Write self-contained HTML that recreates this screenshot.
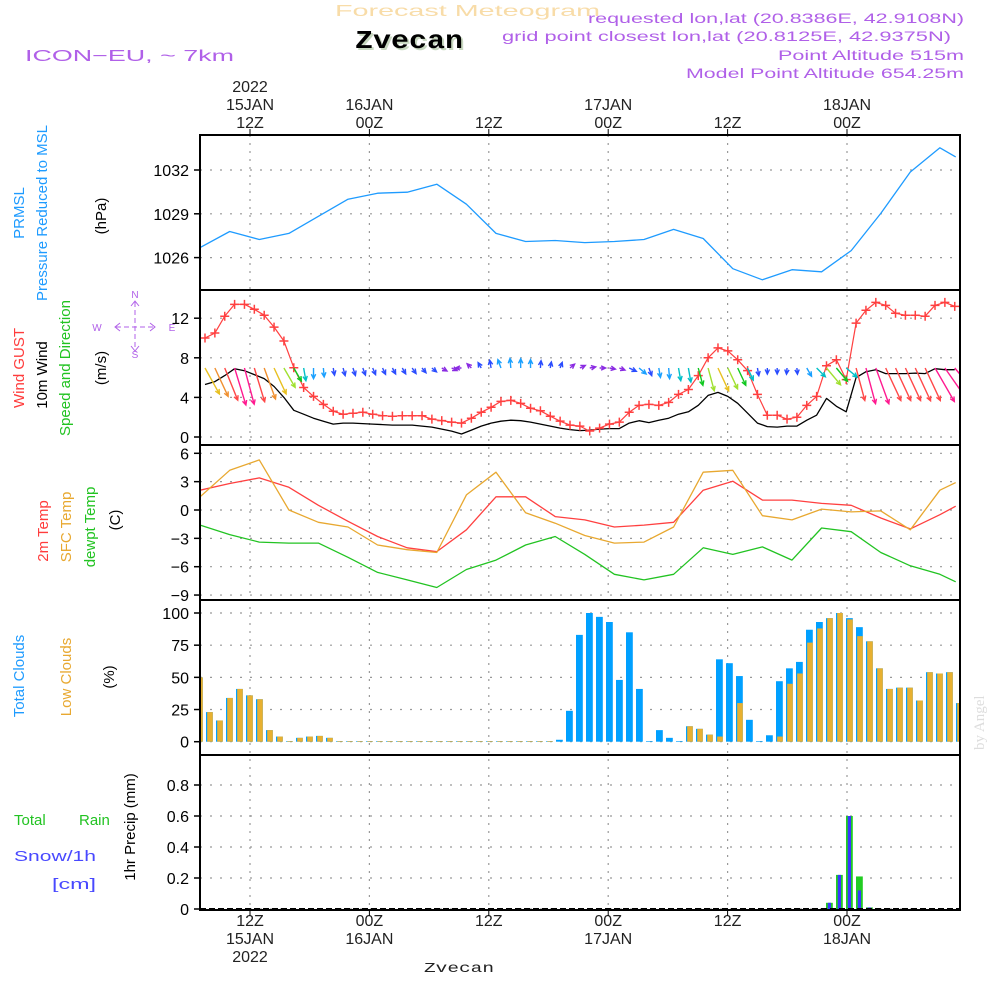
<!DOCTYPE html>
<html><head><meta charset="utf-8"><style>
html,body{margin:0;padding:0;background:#fff;}
svg{display:block;font-family:"Liberation Sans",sans-serif;}
</style></head><body>
<svg id="chart" width="1000" height="1000" viewBox="0 0 1000 1000" xmlns="http://www.w3.org/2000/svg">
<rect width="1000" height="1000" fill="#fff"/>
<g id="titles" font-size="15">
<text x="335" y="16" fill="#f8dca8" font-size="16" textLength="265" lengthAdjust="spacingAndGlyphs">Forecast Meteogram</text>
<text x="357" y="50" fill="#c8d8c0" font-family="Liberation Mono,monospace" font-weight="bold" font-size="26" textLength="108" lengthAdjust="spacingAndGlyphs">Zvecan</text>
<text x="355" y="48" fill="#000" font-family="Liberation Mono,monospace" font-weight="bold" font-size="26" textLength="108" lengthAdjust="spacingAndGlyphs">Zvecan</text>
<text x="25" y="61" fill="#b060e8" font-size="16" textLength="209" lengthAdjust="spacingAndGlyphs">ICON−EU, ~ 7km</text>
<text x="588" y="23" fill="#b060e8" font-size="14" textLength="376" lengthAdjust="spacingAndGlyphs">requested lon,lat (20.8386E, 42.9108N)</text>
<text x="502" y="41" fill="#b060e8" font-size="14" textLength="449" lengthAdjust="spacingAndGlyphs">grid point closest lon,lat (20.8125E, 42.9375N)</text>
<text x="778" y="60" fill="#b060e8" font-size="14" textLength="186" lengthAdjust="spacingAndGlyphs">Point Altitude 515m</text>
<text x="686" y="78" fill="#b060e8" font-size="14" textLength="278" lengthAdjust="spacingAndGlyphs">Model Point Altitude 654.25m</text>
<text x="424" y="972" fill="#222" font-family="Liberation Mono,monospace" font-size="14" textLength="70" lengthAdjust="spacingAndGlyphs">Zvecan</text>
<text transform="translate(984,750) rotate(-90)" fill="#ddd" font-family="Liberation Serif,serif" font-size="15">by Angel</text>
</g>
<g id="grid"></g>
<g id="marks"></g>
<g id="frames"></g>
<g id="axes" font-size="16" fill="#000"></g>
<g id="ylabels" font-size="15">
<text transform="translate(24,213) rotate(-90)" text-anchor="middle" fill="#1e9bff">PRMSL</text>
<text transform="translate(47,213) rotate(-90)" text-anchor="middle" fill="#1e9bff">Pressure Reduced to MSL</text>
<text transform="translate(106,216) rotate(-90)" text-anchor="middle" fill="#000">(hPa)</text>
<text transform="translate(24,368) rotate(-90)" text-anchor="middle" fill="#ff3c3c">Wind GUST</text>
<text transform="translate(47,375) rotate(-90)" text-anchor="middle" fill="#000">10m Wind</text>
<text transform="translate(70,368) rotate(-90)" text-anchor="middle" fill="#22c322">Speed and Direction</text>
<text transform="translate(106,368) rotate(-90)" text-anchor="middle" fill="#000">(m/s)</text>
<g fill="#b060e8" stroke="#b060e8" font-size="10" text-anchor="middle">
<text x="135" y="298" stroke="none">N</text><text x="135" y="358" stroke="none">S</text>
<text x="97" y="331" stroke="none">W</text><text x="172" y="331" stroke="none">E</text>
<line x1="116" y1="327" x2="154" y2="327" stroke-dasharray="5,3"/><line x1="135" y1="302" x2="135" y2="350" stroke-dasharray="5,3"/>
<path d="M120,323 L115,327 L120,331 M150,323 L155,327 L150,331 M131,306 L135,301 L139,306 M131,346 L135,351 L139,346" fill="none"/>
</g>
<text transform="translate(48,531) rotate(-90)" text-anchor="middle" fill="#ff3c3c">2m Temp</text>
<text transform="translate(71,527) rotate(-90)" text-anchor="middle" fill="#e8a830">SFC Temp</text>
<text transform="translate(95,527) rotate(-90)" text-anchor="middle" fill="#22c322">dewpt Temp</text>
<text transform="translate(120,520) rotate(-90)" text-anchor="middle" fill="#000">(C)</text>
<text transform="translate(24,676) rotate(-90)" text-anchor="middle" fill="#1e9bff">Total Clouds</text>
<text transform="translate(71,677) rotate(-90)" text-anchor="middle" fill="#e8a830">Low Clouds</text>
<text transform="translate(114,677) rotate(-90)" text-anchor="middle" fill="#000">(%)</text>
<text transform="translate(135,827) rotate(-90)" text-anchor="middle" fill="#000">1hr Precip (mm)</text>
<text x="14" y="825" fill="#22c322">Total</text>
<text x="79" y="825" fill="#22c322">Rain</text>
<text x="14" y="861" fill="#4848ff" textLength="82" lengthAdjust="spacingAndGlyphs">Snow/1h</text>
<text x="52" y="889" fill="#4848ff" textLength="44" lengthAdjust="spacingAndGlyphs">[cm]</text>
</g>
</svg>
<script>
// ---------------- data ----------------
const lineHours = [7,10,13,16,19,22,25,28,31,34,37,40,43,46,49,52,55,58,61,64,67,70,73,76,79,82,83.6];
const pressure = [1026.69,1027.79,1027.24,1027.66,1028.83,1030.0,1030.41,1030.48,1031.03,1029.66,1027.66,1027.1,1027.17,1027.03,1027.1,1027.24,1027.93,1027.31,1025.24,1024.48,1025.17,1025.03,1026.48,1029.03,1031.86,1033.52,1032.9];
const temp2m = [2.1,2.8,3.4,2.4,0.5,-1.2,-2.8,-4.0,-4.4,-2.1,1.4,1.4,-0.7,-1.05,-1.8,-1.6,-1.3,2.1,3.05,1.05,1.05,0.7,0.5,-0.85,-2.0,-0.5,0.4];
const tempSfc = [1.4,4.2,5.3,0,-1.3,-1.8,-3.7,-4.2,-4.5,1.6,4.0,-0.3,-1.4,-2.7,-3.5,-3.4,-1.8,4.0,4.2,-0.6,-1.05,0.1,-0.2,-0.1,-2.1,2.1,2.9];
const dewpoint = [-1.6,-2.6,-3.4,-3.5,-3.5,-5.0,-6.6,-7.4,-8.2,-6.3,-5.3,-3.7,-2.8,-4.7,-6.8,-7.4,-6.8,-4.0,-4.7,-3.9,-5.3,-1.9,-2.3,-4.5,-5.9,-6.8,-7.6];
const windStart = 7.5;
const windGust = [10.0,10.5,12.2,13.4,13.4,12.9,12.3,11.1,9.7,7.0,5.0,4.1,3.3,2.6,2.3,2.4,2.5,2.3,2.15,2.1,2.15,2.15,2.15,1.8,1.65,1.5,1.4,1.9,2.5,3.0,3.6,3.7,3.4,2.9,2.65,2.1,1.6,1.2,1.1,0.6,
 0.9,1.3,1.5,2.5,3.2,3.3,3.2,3.5,4.3,4.8,6.2,8.0,9.0,8.7,7.8,6.7,4.3,2.2,2.2,1.8,2.0,3.2,4.1,7.2,7.8,5.8,11.5,12.8,13.6,13.3,12.5,12.3,12.3,12.2,13.3,13.6,13.2];
const windSpeed = [5.3,5.6,6.2,6.9,6.7,6.3,5.9,5.1,4.0,2.7,2.3,1.9,1.6,1.3,1.4,1.4,1.35,1.3,1.25,1.2,1.2,1.2,1.1,1.0,0.8,0.6,0.3,0.7,1.1,1.4,1.6,1.7,1.65,1.5,1.3,1.1,0.9,0.75,0.65,0.7,
 0.8,0.85,0.85,1.4,1.65,1.45,1.7,1.9,2.3,2.55,3.2,4.2,4.5,4.1,3.4,2.4,1.4,1.05,1.0,1.1,1.1,1.7,2.2,3.9,3.1,2.55,6.0,6.6,6.8,6.4,6.4,6.4,6.45,6.4,6.9,6.8,6.8];
const windDir = [331,335,338,343,345,343,340,335,330,330,350,0,355,350,345,342,340,337,335,332,330,325,320,310,300,295,90,135,150,170,160,175,180,180,185,190,200,230,245,260,
 270,280,290,295,310,340,350,355,350,350,345,345,335,335,335,335,350,0,0,5,355,330,315,320,320,310,345,345,340,335,335,335,335,335,330,325,320];
const cloudStart = 7;
const cloudTotal = [50,23,16.5,34,41,36,33,9,4,0.5,3,4,4.5,3,0.5,0.5,0.5,0.5,0.5,0.5,0.5,0.5,0.5,0.5,0.5,0.5,0.5,0.5,0.5,0.5,0.5,0.5,0.5,0.5,0.5,0.5,1.5,
 24,83,100,97,93,48,85,41,0.5,9,3,0.5,12,10,5.5,64,61,51,17,0.5,5,47,57,62,87,93,96,100,96,89,78,57,41,42,42,32,54,53,54,30];
const cloudLow = [50,23,16.5,34,41,36,33,9,4,0.5,3,4,4.5,3,0.5,0.5,0.5,0.5,0.5,0.5,0.5,0.5,0.5,0.5,0.5,0.5,0.5,0.5,0.5,0.5,0.5,0.5,0.5,0.5,0.5,0.5,0,
 0,0,0,0,0,0,0,0,0,0,0,0,12,10,5.5,4,0,30,0,0,0,4,45,53,77,88,96,100,95,82,78,57,41,42,42,32,54,53,54,30];
const precipHours = [70,71,72,73,74];
const precipTotal = [0.04,0.22,0.60,0.21,0.01];
const precipSnow = [0.04,0.22,0.60,0.12,0.01];
const pTicks = [1026,1029,1032];
const wTicks = [0,4,8,12];
const tTicks = [-9,-6,-3,0,3,6];
const cTicks = [0,25,50,75,100];
const rTicks = [0,0.2,0.4,0.6,0.8];
const gridHours = [12,24,36,48,60,72];
const topLabels = [["2022","15JAN","12Z"],["","16JAN","00Z"],["","","12Z"],["","17JAN","00Z"],["","","12Z"],["","18JAN","00Z"]];
const bottomLabels = [["12Z","15JAN","2022"],["00Z","16JAN",""],["12Z","",""],["00Z","17JAN",""],["12Z","",""],["00Z","18JAN",""]];

// ---------------- scales ----------------
const NS="http://www.w3.org/2000/svg";
const X0=200, X1=960;
const xl = h => 205 + (h-7.5)*9.865;
const xb = h => 199.4 + (h-7)*10;
const xg = h => 250 + (h-12)*9.95;
const yP = v => 170 + (1032-v)*14.6;
const yW = v => 437 - v*9.9;
const yT = v => 510 - v*9.45;
const yC = v => 741.7 - v*1.287;
const yR = v => 909 - v*155;
const panels=[[135,290],[290,445],[445,600],[600,755],[755,910]];

function el(tag, attrs, parent){ const e=document.createElementNS(NS,tag); for(const k in attrs) e.setAttribute(k,attrs[k]); parent.appendChild(e); return e; }
const grid=document.getElementById('grid'), marks=document.getElementById('marks'), frames=document.getElementById('frames'), axes=document.getElementById('axes');

gridHours.forEach(h=>{
  const g=el('line',{x1:xg(h),x2:xg(h),y1:135,y2:910,stroke:'#999','stroke-width':1.2,'stroke-dasharray':'2,6'},grid);
  
  
});
function hgrid(ticks, ys, fmt, name){
  ticks.forEach(t=>{
    const y=ys(t);
    const g=el('line',{x1:X0,x2:X1,y1:y,y2:y,stroke:'#999','stroke-width':1.2,'stroke-dasharray':'2,8'},grid);
    
    
    const tk=el('line',{x1:194,x2:200,y1:y,y2:y,stroke:'#000','stroke-width':1.5},axes);
    
    
    const tx=el('text',{x:189,y:y+6,'text-anchor':'end'},axes);
    tx.textContent=fmt(t);
    
    
  });
}
hgrid(pTicks,yP,t=>String(t),'pressure');
hgrid(wTicks,yW,t=>String(t),'wind');
hgrid(tTicks,yT,t=>t<0?'−'+(-t):String(t),'temp');
hgrid(cTicks,yC,t=>String(t),'cloud');
hgrid(rTicks,yR,t=>t===0?'0':t.toFixed(1),'precip');

panels.forEach((p,i)=>{
  const r=el('rect',{x:X0,y:p[0],width:X1-X0,height:p[1]-p[0],fill:'none',stroke:'#000','stroke-width':2},frames);
  
  
});
gridHours.forEach((h,i)=>{
  const x=xg(h);
  topLabels[i].forEach((s,j)=>{ if(!s) return;
    const t=el('text',{x:x,y:92+j*18,'text-anchor':'middle','fill':'#222'},axes); t.textContent=s;
    
    
  });
  bottomLabels[i].forEach((s,j)=>{ if(!s) return;
    const t=el('text',{x:x,y:926+j*18,'text-anchor':'middle','fill':'#222'},axes); t.textContent=s;
    
    
  });
  const a=el('line',{x1:x,x2:x,y1:129,y2:135,stroke:'#000'},axes);
  
  
  const b=el('line',{x1:x,x2:x,y1:910,y2:916,stroke:'#000'},axes);
  
  
});

const defs=el('defs',{},marks);
const cp=el('clipPath',{id:'plotclip'},defs); el('rect',{x:X0,y:135,width:X1-X0,height:775},cp);
const M=el('g',{'clip-path':'url(#plotclip)'},marks);

function polyline(hours, vals, xs, ys, color, name, w){
  const pts=vals.map((v,i)=>xs(hours[i]).toFixed(1)+','+ys(v).toFixed(1)).join(' ');
  const p=el('polyline',{points:pts,fill:'none',stroke:color,'stroke-width':w||1.3,'stroke-linejoin':'round'},M);
  
  
}
polyline(lineHours,pressure,xl,yP,'#1e9bff','pressure-line');
polyline(lineHours,temp2m,xl,yT,'#ff4040','temp-2m-line');
polyline(lineHours,tempSfc,xl,yT,'#e8a830','temp-sfc-line');
polyline(lineHours,dewpoint,xl,yT,'#22c322','dewpoint-line');
const windHours=windGust.map((_,i)=>windStart+i);
polyline(windHours,windSpeed,xl,yW,'#000','wind-speed-line');
polyline(windHours,windGust,xl,yW,'#ff4040','wind-gust-line',1.2);
windGust.forEach((v,i)=>{
  const x=xl(windHours[i]), y=yW(v);
  const c=el('path',{d:`M${x-4.5},${y}H${x+4.5}M${x},${y-4.5}V${y+4.5}`,stroke:'#ff4040','stroke-width':1.5},M);
  
  
});
function arrowColor(s){
  if(s<0.9) return '#8a2be2';
  if(s<1.5) return '#2a4cff';
  if(s<2.0) return '#1aa0ff';
  if(s<2.6) return '#00c0c8';
  if(s<3.6) return '#10c820';
  if(s<4.4) return '#a0e030';
  if(s<5.4) return '#e8c020';
  if(s<6.0) return '#f09030';
  if(s<6.6) return '#ff4848';
  return '#ff1a90';
}
windDir.forEach((d,i)=>{
  const s=windSpeed[i];
  const L=Math.max(6, s*5.6);
  const th=(d+180)*Math.PI/180;
  const x=xl(windHours[i]), y=368;
  const dx=Math.sin(th)*L, dy=-Math.cos(th)*L;
  const x2=x+dx, y2=y+dy;
  const a1=th+Math.PI-0.45, a2=th+Math.PI+0.45, hl=5;
  const d1=`M${x},${y}L${x2},${y2}M${x2+Math.sin(a1)*hl},${y2-Math.cos(a1)*hl}L${x2},${y2}L${x2+Math.sin(a2)*hl},${y2-Math.cos(a2)*hl}`;
  const a=el('path',{d:d1,stroke:arrowColor(s),'stroke-width':1.4,fill:'none'},M);
  
  
});
cloudTotal.forEach((v,i)=>{
  const h=cloudStart+i, x=xb(h);
  const b=el('rect',{x:x-3.4,y:yC(v),width:6.8,height:yC(0)-yC(v),fill:'#00a0ff'},M);
  
  
  const lv=cloudLow[i];
  if(lv>0){
    const o=el('rect',{x:x-2.2,y:yC(lv),width:5.6,height:yC(0)-yC(lv),fill:'#e8b030'},M);
    
    
  }
});
precipTotal.forEach((v,i)=>{
  const x=xb(precipHours[i]);
  const g=el('rect',{x:x-3.4,y:yR(v),width:6.8,height:yR(0)-yR(v),fill:'#22cc22'},M);
  
  
  const sv=precipSnow[i];
  const b=el('rect',{x:x-1.6,y:yR(sv),width:3.2,height:yR(0)-yR(sv),fill:'#3838ff'},M);
  
  
});
const base=el('line',{x1:X0,x2:X1,y1:yR(0),y2:yR(0),stroke:'#000','stroke-width':2,'stroke-dasharray':'6,3'},M);


</script>
</body></html>
